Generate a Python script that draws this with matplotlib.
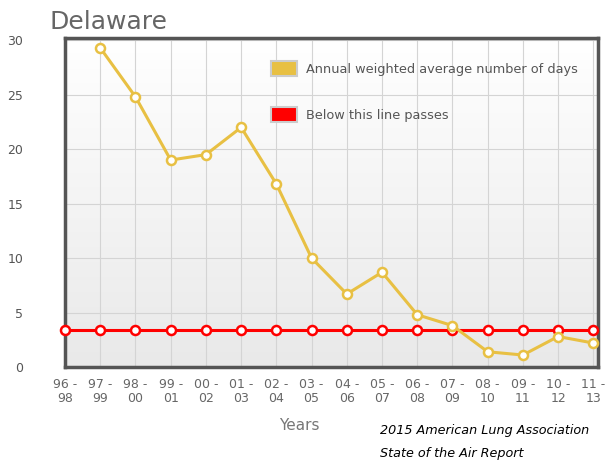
import numpy as np
import matplotlib
matplotlib.use("Agg")
import matplotlib.pyplot as plt
from matplotlib.patches import Patch
from matplotlib.colors import LinearSegmentedColormap

# -------- Data --------
periods = ["96 -\n98", "97 -\n99", "98 -\n00", "99 -\n01", "00 -\n02", "01 -\n03",
           "02 -\n04", "03 -\n05", "04 -\n06", "05 -\n07", "06 -\n08", "07 -\n09",
           "08 -\n10", "09 -\n11", "10 -\n12", "11 -\n13"]
avg_days = [None, 29.3, 24.8, 19.0, 19.5, 22.0, 16.8, 10.0, 6.7, 8.7, 4.8, 3.8,
            1.4, 1.1, 2.8, 2.2]
pass_line = [3.4] * len(periods)
y_ticks = [0, 5, 10, 15, 20, 25, 30]

gold = "#e8c043"
red = "#ff0000"
grey_text = "#555555"

fig = plt.figure(figsize=(6.08, 4.62), dpi=100)
ax = fig.add_axes([0.107, 0.2056, 0.877, 0.712])

x = np.arange(len(periods))
ax.set_xlim(0, 15.14)
ax.set_ylim(0, 30.2)

# soft vertical gradient behind the plot, white at the top
grad = np.linspace(0.0, 1.0, 256).reshape(-1, 1)
bg = LinearSegmentedColormap.from_list("bg", ["#e9e9e9", "#ffffff"])
ax.imshow(grad, extent=[0, 15.14, 0, 30.2], aspect="auto", cmap=bg,
          origin="lower", zorder=0)

# -------- Series --------
gx = [i for i, v in zip(x, avg_days) if v is not None]
gy = [v for v in avg_days if v is not None]
ax.plot(gx, gy, color=gold, lw=2.2, marker="o", ms=6.5, mfc="white", mec=gold,
        mew=1.8, zorder=4, clip_on=False)
ax.plot(x, pass_line, color=red, lw=2.2, marker="o", ms=6.5, mfc="white", mec=red,
        mew=1.8, zorder=3, clip_on=False)

# -------- Axes styling --------
ax.set_xticks(x)
ax.set_xticklabels(periods, fontsize=9, color="#666666", linespacing=1.1)
ax.set_yticks(y_ticks)
ax.set_yticklabels([str(t) for t in y_ticks], fontsize=9, color=grey_text)
ax.tick_params(axis="both", length=0)
ax.tick_params(axis="y", pad=30)
ax.tick_params(axis="x", pad=8)
ax.grid(True, color="#d4d4d4", lw=0.8, zorder=1)
ax.set_axisbelow(True)
for s in ax.spines.values():
    s.set_color("#555555")
    s.set_linewidth(2.5)

ax.set_xlabel("Years", fontsize=11, color="#777777")
ax.xaxis.set_label_coords(0.44, -0.155)
fig.text(0.082, 0.938, "Delaware", fontsize=18, color="#666666")

# -------- Legend --------
handles = [Patch(facecolor=gold, edgecolor="#cccccc", lw=1.5),
           Patch(facecolor=red, edgecolor="#cccccc", lw=1.5)]
leg = ax.legend(handles, ["Annual weighted average number of days", "Below this line passes"],
                loc="upper left", bbox_to_anchor=(0.365, 0.965), frameon=False,
                fontsize=9.3, labelspacing=2.4, handlelength=2.0, handleheight=1.4,
                handletextpad=0.7)
for t in leg.get_texts():
    t.set_color(grey_text)

# -------- Source note --------
fig.text(0.625, 0.06, "2015 American Lung Association", fontsize=9.2, style="italic", color="black")
fig.text(0.625, 0.01, "State of the Air Report", fontsize=9.2, style="italic", color="black")

fig.savefig("out.png", dpi=100)
